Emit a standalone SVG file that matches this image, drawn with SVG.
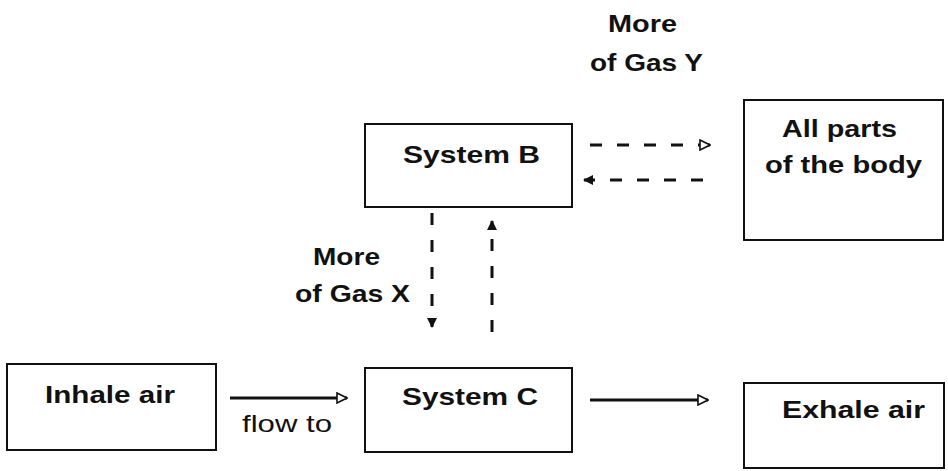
<svg xmlns="http://www.w3.org/2000/svg" width="948" height="471" viewBox="0 0 948 471">
<style>
.box{fill:#fff;stroke:#111;stroke-width:2}
.t{font-family:"Liberation Sans",Arial,sans-serif;font-size:24px;font-weight:bold;fill:#111}
.r{font-weight:normal}
.dash{stroke:#111;stroke-width:3;stroke-dasharray:12 15;fill:none}
.solid{stroke:#111;stroke-width:3;fill:none}
</style>
<defs>
<marker id="open" viewBox="0 0 12 12" refX="11" refY="6" markerWidth="12" markerHeight="12" markerUnits="userSpaceOnUse" orient="auto">
<path d="M1,1 L11,6 L1,11 Z" fill="#fff" stroke="#111" stroke-width="1.6"/>
</marker>
<marker id="fill" viewBox="0 0 10 10" refX="9" refY="5" markerWidth="10" markerHeight="10" markerUnits="userSpaceOnUse" orient="auto">
<path d="M0,0 L10,5 L0,10 Z" fill="#111"/>
</marker>
</defs>
<rect width="948" height="471" fill="#fff"/>

<g id="labels">
<text class="t" x="608" y="32" textLength="69" lengthAdjust="spacingAndGlyphs">More</text>
<text class="t" x="590" y="71" textLength="113" lengthAdjust="spacingAndGlyphs">of Gas Y</text>
<text class="t" x="313" y="265" textLength="67" lengthAdjust="spacingAndGlyphs">More</text>
<text class="t" x="295" y="302" textLength="115" lengthAdjust="spacingAndGlyphs">of Gas X</text>
<text class="t r" x="242" y="432" textLength="90" lengthAdjust="spacingAndGlyphs">flow to</text>
</g>

<g id="systemB">
<rect class="box" x="365" y="124" width="207" height="83"/>
<text class="t" x="403" y="163" textLength="137" lengthAdjust="spacingAndGlyphs">System B</text>
</g>

<g id="body">
<rect class="box" x="744" y="100" width="199" height="140"/>
<text class="t" x="782" y="137" textLength="115" lengthAdjust="spacingAndGlyphs">All parts</text>
<text class="t" x="765" y="173" textLength="157" lengthAdjust="spacingAndGlyphs">of the body</text>
</g>

<g id="inhale">
<rect class="box" x="7" y="364" width="209" height="86"/>
<text class="t" x="45" y="403" textLength="130" lengthAdjust="spacingAndGlyphs">Inhale air</text>
</g>

<g id="systemC">
<rect class="box" x="365" y="368" width="207" height="84"/>
<text class="t" x="402" y="405" textLength="136" lengthAdjust="spacingAndGlyphs">System C</text>
</g>

<g id="exhale">
<rect class="box" x="744" y="383" width="200" height="85"/>
<text class="t" x="782" y="418" textLength="143" lengthAdjust="spacingAndGlyphs">Exhale air</text>
</g>

<g id="connectors">
<line class="dash" x1="590" y1="145" x2="710" y2="145" marker-end="url(#open)"/>
<line class="dash" x1="703" y1="180" x2="584" y2="180" marker-end="url(#fill)"/>
<line class="dash" x1="432" y1="213" x2="432" y2="327" marker-end="url(#fill)"/>
<line class="dash" x1="492" y1="332" x2="492" y2="221" marker-end="url(#fill)"/>
<line class="solid" x1="230" y1="398" x2="347" y2="398" marker-end="url(#open)"/>
<line class="solid" x1="590" y1="400" x2="708" y2="400" marker-end="url(#open)"/>
</g>
</svg>
